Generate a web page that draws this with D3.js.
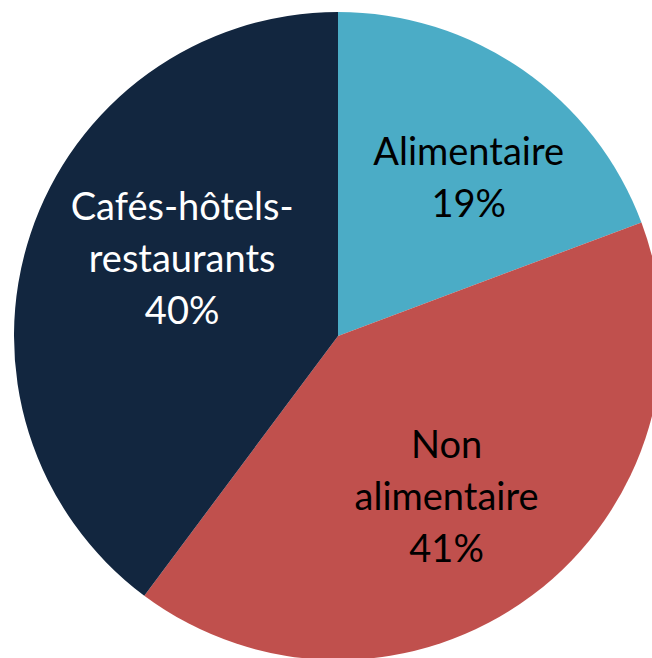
<!DOCTYPE html>
<html>
<head>
<meta charset="utf-8">
<script src="https://cdn.jsdelivr.net/npm/d3@7"></script>
<style>
  html, body { margin: 0; padding: 0; background: #fff; }
  svg { display: block; }
</style>
</head>
<body>
<svg id="chart" width="652" height="658"></svg>
<script>
// données
const categories = ["Alimentaire", "Non alimentaire", "Cafés-hôtels-restaurants"];
const values = [19.3, 40.9, 39.8];
const labelLines = [["Alimentaire"], ["Non", "alimentaire"], ["Cafés-hôtels-", "restaurants"]];

const colors = ["#4BACC6", "#C0504D", "#12263F"];
const textColors = ["#000", "#000", "#fff"];

const width = 652, height = 658;
const cx = 338, cy = 336, radius = 324;

const svg = d3.select("#chart");
const g = svg.append("g").attr("transform", `translate(${cx},${cy})`);

const data = categories.map((c, i) => ({ name: c, value: values[i], lines: labelLines[i], i: i }));

const pie = d3.pie().value(d => d.value).sort(null);
const arc = d3.arc().innerRadius(0).outerRadius(radius);

const arcs = pie(data);

g.selectAll("path.slice")
  .data(arcs)
  .enter().append("path")
  .attr("class", "slice")
  .attr("d", arc)
  .attr("fill", d => colors[d.data.i]);

// positions des étiquettes (ajustées à la main comme le "best fit" d'Excel)
const labelRadius = [205, 194, 174];
const labelAngleShift = [0.085, 0.05, 0.14]; // radians
const lineH = 52;

const labels = g.selectAll("text.lbl")
  .data(arcs)
  .enter().append("text")
  .attr("class", "lbl")
  .attr("text-anchor", "middle")
  .attr("font-family", "Lato, 'Open Sans', sans-serif")
  .attr("font-size", 38)
  .attr("fill", d => textColors[d.data.i])
  .each(function(d) {
    const a = (d.startAngle + d.endAngle) / 2 + labelAngleShift[d.data.i];
    const r = labelRadius[d.data.i];
    const x = Math.sin(a) * r;
    const y = -Math.cos(a) * r;
    const lines = d.data.lines.concat([Math.round(d.data.value) + "%"]);
    const top = y - (lines.length - 1) * lineH / 2;
    const t = d3.select(this);
    lines.forEach((l, k) => {
      t.append("tspan")
        .attr("x", x)
        .attr("y", top + k * lineH)
        .attr("dy", "0.35em")
        .text(l);
    });
  });
</script>
</body>
</html>
